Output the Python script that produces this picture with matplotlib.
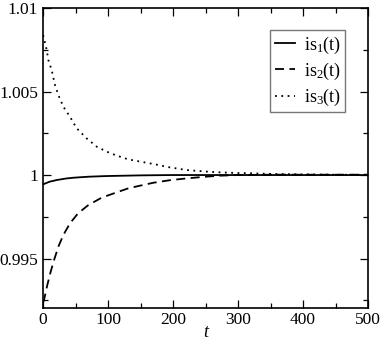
import matplotlib
matplotlib.use("Agg")
import matplotlib.pyplot as plt

plt.rcParams['font.family'] = ['Liberation Serif', 'DejaVu Serif']
plt.rcParams['mathtext.fontset'] = 'custom'
plt.rcParams['mathtext.rm'] = 'Liberation Serif'
plt.rcParams['mathtext.it'] = 'Liberation Serif:italic'

t1 = [0, 5, 10, 21, 35, 47, 70, 98, 150, 200, 300, 400, 500]
is1 = [0.99944, 0.99952, 0.99960, 0.99970, 0.99979, 0.99984, 0.99990, 0.99994, 0.99998,
       1.0, 1.0, 1.0, 1.0]

t2 = [0, 1.5, 6.6, 11.8, 17, 23.6, 31.3, 41.5, 54, 69.7, 90, 113, 131, 150, 170,
      195, 221, 250, 272, 300, 350, 400, 450, 500]
is2 = [0.99238, 0.99251, 0.99341, 0.99421, 0.99491, 0.99571, 0.99641, 0.99711, 0.99771,
       0.99820, 0.99864, 0.99896, 0.99920, 0.99937, 0.99954, 0.99969, 0.99980, 0.99990,
       0.99996, 1.00000, 1.00002, 1.00002, 1.00002, 1.00002]

t3 = [0, 0.5, 5.7, 8.2, 13.3, 18.5, 23.6, 31.3, 41.5, 51.8, 67, 82.6, 98, 113, 131,
      150, 170, 195, 221, 250, 272, 300, 323, 350, 400, 450, 500]
is3 = [1.00838, 1.00834, 1.00749, 1.00689, 1.00629, 1.00539, 1.00479, 1.00409, 1.00349,
       1.00280, 1.00220, 1.00170, 1.00140, 1.00117, 1.00094, 1.00080, 1.00066, 1.00046,
       1.00030, 1.00021, 1.00016, 1.00012, 1.00010, 1.00007, 1.00004, 1.00002, 1.00001]

labels = [r'is$_1$(t)', r'is$_2$(t)', r'is$_3$(t)']
xticks = [0, 100, 200, 300, 400, 500]
yticks = [0.995, 1.0, 1.005, 1.01]
yticklabels = ['0.995', '1', '1.005', '1.01']

fig = plt.figure(figsize=(3.82, 3.40), dpi=100)
ax = fig.add_axes([43/382, 1 - 308/340, 325/382, 300/340])

ax.plot(t1, is1, color='black', lw=1.3, ls='-', label=labels[0])
ax.plot(t2, is2, color='black', lw=1.3, ls=(0, (5, 3)), label=labels[1])
ax.plot(t3, is3, color='black', lw=1.3, ls=(0, (1, 2.5)), label=labels[2])

ax.set_xlim(0, 500)
ax.set_ylim(0.99204, 1.01)
ax.set_xticks(xticks)
ax.set_xticklabels([str(v) for v in xticks])
ax.set_xticks([50, 150, 250, 350, 450], minor=True)
ax.set_yticks(yticks)
ax.set_yticklabels(yticklabels)
ax.set_yticks([0.9925, 0.9975, 1.0025, 1.0075], minor=True)
ax.tick_params(which='both', direction='in', top=True, right=True, labelsize=12.5)
ax.tick_params(which='major', length=6, width=0.9)
ax.tick_params(which='minor', length=3.5, width=0.9)
ax.tick_params(axis='x', pad=3)
for s in ax.spines.values():
    s.set_linewidth(1.2)
ax.set_xlabel('t', fontsize=13, style='italic', labelpad=-3)

leg = ax.legend(loc='upper right', bbox_to_anchor=(0.93, 0.927), fontsize=13,
                frameon=True, fancybox=False, handlelength=1.1, handletextpad=0.5,
                borderpad=0.25, labelspacing=0.28, borderaxespad=0)
leg.get_frame().set_edgecolor('#555555')
leg.get_frame().set_linewidth(1.0)

fig.savefig('out.png', dpi=100)
